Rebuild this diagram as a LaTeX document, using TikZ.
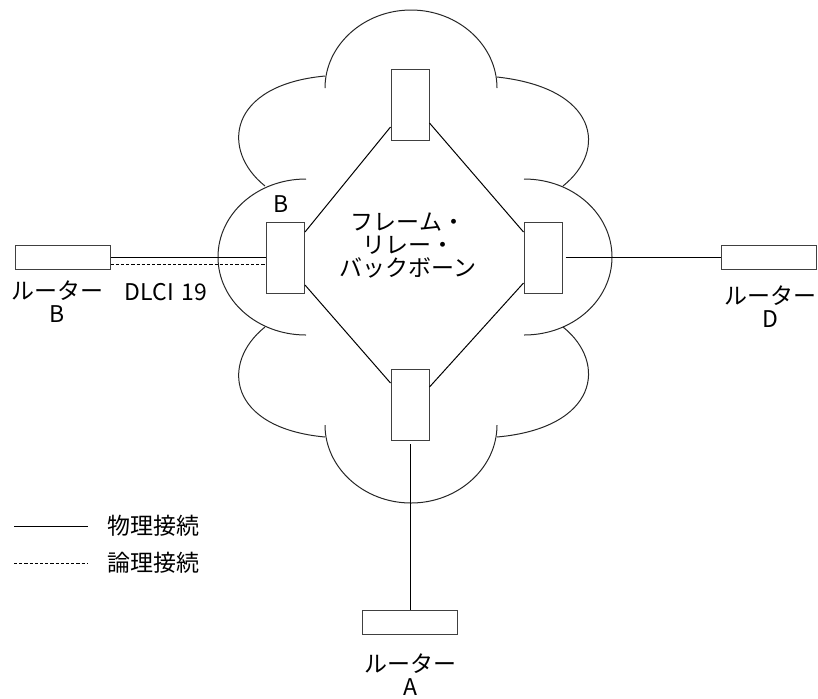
\documentclass[tikz,border=0pt]{standalone}
\usepackage{fontspec}
\setmainfont{Noto Sans CJK JP}
\usetikzlibrary{positioning}

\tikzset{
  sw/.style={draw=black!75, line width=0.5pt, minimum width=19pt, minimum height=35.5pt, inner sep=0pt},
  router/.style={draw=black!75, line width=0.5pt, minimum width=47.5pt, minimum height=12pt, inner sep=0pt},
  lbl/.style={font=\fontsize{11.5}{11.5}\selectfont, align=center, inner sep=0pt},
  phys/.style={line width=0.5pt},
  logi/.style={line width=0.5pt, dash pattern=on 1.6pt off 1pt},
  cloudline/.style={line width=0.5pt, black!85}
}

\begin{document}
\begin{tikzpicture}[x=0.5pt,y=-0.5pt]
\useasboundingbox (0,0) rectangle (818,698);
% cloud: four half lobes
\draw[cloudline] (325,88) .. controls (325,45) and (364,10) .. (411,10) .. controls (458,10) and (497,45) .. (497,88);
\draw[cloudline] (325,425) .. controls (325,468) and (364,503) .. (411,503) .. controls (458,503) and (497,468) .. (497,425);
\draw[cloudline] (306,179) .. controls (257,179) and (218,214) .. (218,257) .. controls (218,300) and (257,335) .. (306,335);
\draw[cloudline] (524,179) .. controls (573,179) and (612,214) .. (612,257) .. controls (612,300) and (573,335) .. (524,335);
% cloud: diagonal lobes
\draw[cloudline] (325,76) .. controls (228,85) and (220,150) .. (265,186);
\draw[cloudline] (497,77) .. controls (598,88) and (608,150) .. (563,186);
\draw[cloudline] (265,327) .. controls (220,363) and (228,428) .. (325,437);
\draw[cloudline] (563,327) .. controls (608,363) and (598,428) .. (497,437);

% switches
\node[sw] (swtop) at (410,104.5) {};
\node[sw] (swleft) at (285.5,257.5) {};
\node[sw] (swright) at (543,257.5) {};
\node[sw] (swbot) at (410,405) {};
\node[lbl, above=4.5pt of swleft, xshift=-2.25pt] (swleftlbl) {B};
\node[lbl] (backbone) at (408,245.5) {フレーム・\\リレー・\\バックボーン};

% routers
\node[router] (rtb) at (62.5,257.5) {};
\node[router] (rtd) at (769,257.5) {};
\node[router] (rta) at (410,622.5) {};
\node[lbl] (rtblbl) at (57,302) {ルーター\\B};
\node[lbl] (rtdlbl) at (770,307) {ルーター\\D};
\node[lbl] (rtalbl) at (410,675) {ルーター\\A};
\node[lbl] (dlci) at (166,292.5) {DLCI\,\,19};

% backbone links
\draw[phys] ([yshift=-11.25pt]swtop.west) -- ([yshift=12.75pt]swleft.east);
\draw[phys] ([yshift=-9.25pt]swtop.east) -- ([yshift=12.75pt]swright.west);
\draw[phys] ([yshift=-13.75pt]swleft.east) -- ([yshift=11pt]swbot.west);
\draw[phys] ([yshift=-12.75pt]swright.west) -- ([yshift=9pt]swbot.east);

% access links
\draw[phys] (rtb.east) -- (swleft.west);
\draw[logi] ([yshift=-3.4pt]rtb.east) -- ([yshift=-3.4pt]swleft.west);
\draw[phys] ([xshift=1.5pt]swright.east) -- (rtd.west);
\draw[phys] ([yshift=-1.5pt]swbot.south) -- (rta.north);

% legend
\coordinate (physa) at (14,526);
\coordinate (physb) at (88,526);
\coordinate (logia) at (14,563);
\coordinate (logib) at (88,563);
\draw[phys] (physa) -- (physb);
\draw[logi] (logia) -- (logib);
\node[lbl, anchor=west] (physlbl) at (107,526) {物理接続};
\node[lbl, anchor=west] (logilbl) at (107,563) {論理接続};
\end{tikzpicture}
\end{document}
